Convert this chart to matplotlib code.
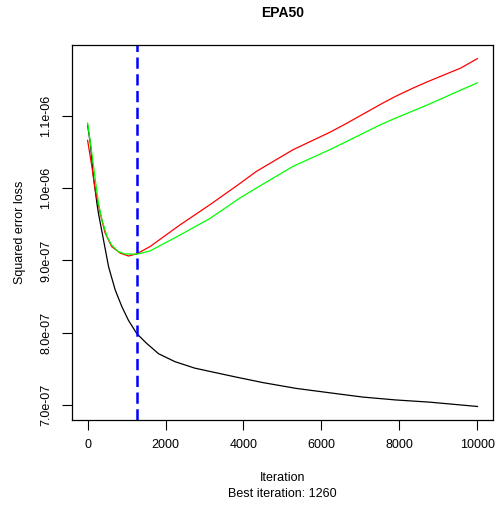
import numpy as np
import matplotlib
matplotlib.use("Agg")
from matplotlib import pyplot as plt

plt.rcParams['font.family'] = ['Liberation Sans', 'DejaVu Sans']

# loss values in units of 1e-07
train_it = [1, 70, 150, 240, 280, 410, 540, 710, 880, 1050, 1260, 1500, 1820, 2240,
            2750, 3350, 3780, 4500, 5350, 6200, 7060, 7910, 8770, 10000]
train_loss = [10.87, 10.62, 10.16, 9.79, 9.65, 9.28, 8.91, 8.59, 8.36, 8.17, 7.99, 7.86, 7.71, 7.60,
              7.51, 7.44, 7.39, 7.31, 7.23, 7.17, 7.11, 7.07, 7.04, 6.98]

valid_it = [1, 110, 200, 325, 450, 620, 840, 1050, 1260, 1600, 2370, 3140, 3900, 4330,
            5270, 6210, 6630, 7490, 7870, 8340, 8720, 9575, 10000]
valid_loss = [10.66, 10.30, 9.97, 9.65, 9.38, 9.19, 9.10, 9.06, 9.09, 9.19, 9.49, 9.77, 10.06, 10.23,
              10.53, 10.77, 10.89, 11.15, 11.26, 11.38, 11.47, 11.66, 11.79]

cv_it = [1, 110, 200, 280, 370, 500, 620, 790, 960, 1260, 1600, 2370, 3140, 3900, 4330,
         5270, 6210, 6630, 7490, 7870, 8720, 9575, 10000]
cv_loss = [10.90, 10.48, 10.11, 9.79, 9.56, 9.33, 9.21, 9.12, 9.09, 9.085, 9.13, 9.35, 9.58, 9.86, 10.00,
           10.30, 10.53, 10.64, 10.87, 10.96, 11.15, 11.355, 11.455]

best_iter = 1260
yticks = [7.0, 8.0, 9.0, 10.0, 11.0]
ytick_labels = ['7.0e-07', '8.0e-07', '9.0e-07', '1.0e-06', '1.1e-06']
xticks = [0, 2000, 4000, 6000, 8000, 10000]

fig = plt.figure(figsize=(4.97, 5.05), dpi=100)
ax = fig.add_axes([72/497, 1-420/505, (493-72)/497, (420-45)/505])

ax.plot(train_it, np.array(train_loss)*1e-7, color='black', lw=0.9)
ax.plot(valid_it, np.array(valid_loss)*1e-7, color='red', lw=0.9)
ax.plot(cv_it, np.array(cv_loss)*1e-7, color='#00ff00', lw=0.9)
ax.axvline(best_iter, color='blue', lw=1.8, dashes=(4.5, 2.2))

ax.set_xlim(-399, 10400)
ax.set_ylim(6.793e-7, 1.1978e-6)
ax.set_xticks(xticks)
ax.set_xticklabels([str(t) for t in xticks])
ax.set_yticks(np.array(yticks)*1e-7)
ax.set_yticklabels(ytick_labels, rotation=90, va='center')

ax.tick_params(direction='out', length=7, width=0.8, labelsize=9, colors='black', pad=7)
for s in ax.spines.values():
    s.set_linewidth(0.9)

ax.set_xlabel('Iteration\nBest iteration: 1260', fontsize=9, labelpad=15, linespacing=1.4)
ax.set_ylabel('Squared error loss', fontsize=9, labelpad=10.5)
ax.set_title('EPA50', fontsize=10, fontweight='bold', pad=20)

fig.savefig('out.png', dpi=100)
